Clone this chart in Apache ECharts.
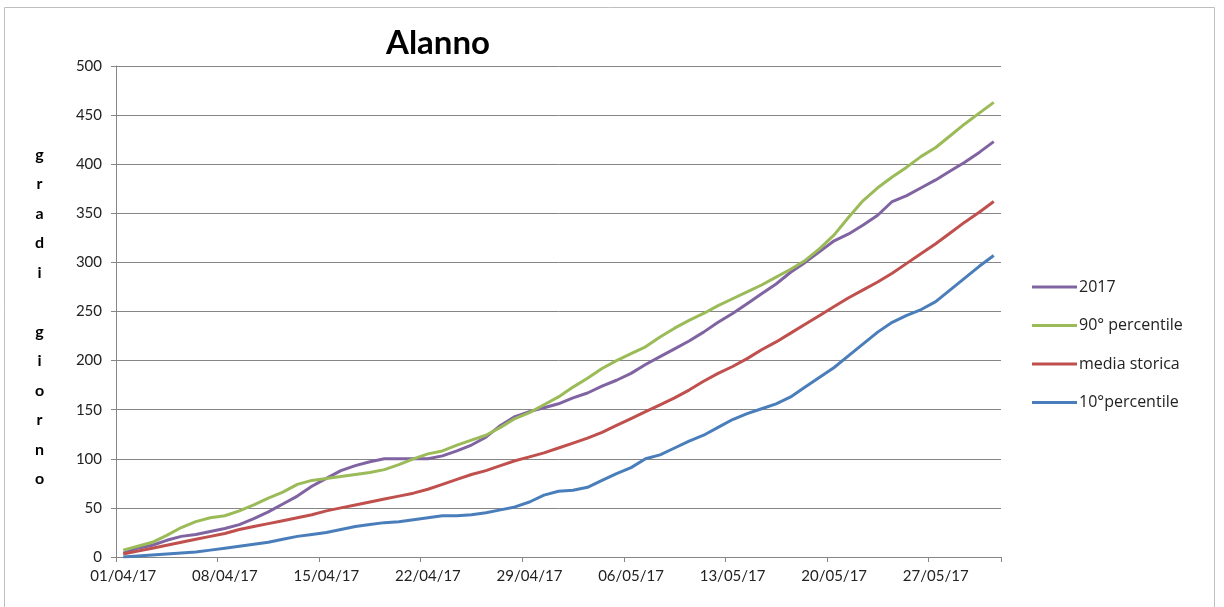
<!DOCTYPE html>
<html><head><meta charset="utf-8">
<script src="https://cdn.jsdelivr.net/npm/echarts@6/dist/echarts.min.js"></script>
<style>html,body{margin:0;padding:0;background:#fff;}#c{width:1224px;height:607px;}</style>
</head><body><div id="c"></div>
<script>
const dates = ["01/04/17","02/04/17","03/04/17","04/04/17","05/04/17","06/04/17","07/04/17","08/04/17","09/04/17","10/04/17",
"11/04/17","12/04/17","13/04/17","14/04/17","15/04/17","16/04/17","17/04/17","18/04/17","19/04/17","20/04/17",
"21/04/17","22/04/17","23/04/17","24/04/17","25/04/17","26/04/17","27/04/17","28/04/17","29/04/17","30/04/17",
"01/05/17","02/05/17","03/05/17","04/05/17","05/05/17","06/05/17","07/05/17","08/05/17","09/05/17","10/05/17",
"11/05/17","12/05/17","13/05/17","14/05/17","15/05/17","16/05/17","17/05/17","18/05/17","19/05/17","20/05/17",
"21/05/17","22/05/17","23/05/17","24/05/17","25/05/17","26/05/17","27/05/17","28/05/17","29/05/17","30/05/17","31/05/17"];
const s2017 = [4,9,12,17,21,23,26,29,33,39,46,54,62,72,80,88,93,97,100,100,100,100,103,108,114,122,134,143,148,152,156,162,167,174,180,187,196,204,212,220,229,239,248,258,268,278,290,300,311,322,329,338,348,362,368,376,384,393,402,412,423];
const p90 = [7,11,15,22,30,36,40,42,47,53,60,66,74,78,80,82,84,86,89,94,100,105,108,114,119,124,132,141,147,155,163,173,182,192,200,207,214,224,233,241,248,256,263,270,277,285,293,302,314,328,346,363,376,387,397,408,417,429,441,452,463];
const media = [3,6,9,12,15,18,21,24,28,31,34,37,40,43,47,50,53,56,59,62,65,69,74,79,84,88,93,98,102,106,111,116,121,127,134,141,148,155,162,170,179,187,194,202,211,219,228,237,246,255,264,272,280,289,299,309,319,330,341,351,362];
const p10 = [0,1,2,3,4,5,7,9,11,13,15,18,21,23,25,28,31,33,35,36,38,40,42,42,43,45,48,51,56,63,67,68,71,78,85,91,100,104,111,118,124,132,140,146,151,156,163,173,183,193,205,217,229,239,246,252,260,272,284,296,307];
const names = ["2017","90° percentile","media storica","10°percentile"];
const colors = ["#8064A2","#9BBB59","#C0504D","#4A7EBB"];
const yTitle = ["g","r","a","d","i","","g","i","o","r","n","o"];

const chart = echarts.init(document.getElementById('c'), null, {renderer:'canvas'});
const font = "Lato, 'Open Sans', sans-serif";
const mk = (n, d, i) => ({name:n, type:'line', data:d, symbol:'none', smooth:false,
  lineStyle:{color:colors[i], width:3}, itemStyle:{color:colors[i]}, z: 2+i});
chart.setOption({
  animation:false,
  backgroundColor:'#fff',
  title:{text:'Alanno', left:433, top:22, textAlign:'center',
    textStyle:{fontFamily:font, fontSize:33, fontWeight:'bold', color:'#000'}},
  grid:{left:116, right:223, top:66, bottom:50, containLabel:false},
  legend:{orient:'vertical', left:1027, top:273, itemWidth:45, itemHeight:3, itemGap:20.5, icon:'rect',
    data:names, textStyle:{fontFamily:"'Open Sans', sans-serif", fontSize:16, lineHeight:18, color:'#222', padding:[0,0,0,-3]}},
  xAxis:{type:'category', data:dates, boundaryGap:true,
    axisLine:{lineStyle:{color:'#868686', width:1}},
    axisTick:{show:true, interval:6, length:5, lineStyle:{color:'#868686'}},
    axisLabel:{interval:6, fontFamily:font, fontSize:15, color:'#222', margin:12}},
  yAxis:{type:'value', min:0, max:500, interval:50,
    axisLine:{show:true, lineStyle:{color:'#868686', width:1}},
    axisTick:{show:true, length:5, lineStyle:{color:'#868686'}},
    splitLine:{lineStyle:{color:'#868686', width:1}},
    axisLabel:{fontFamily:font, fontSize:15, color:'#222', margin:14}},
  graphic:[
    {type:'rect', shape:{x:4.5, y:7.5, width:1210, height:620}, style:{fill:'none', stroke:'#bfbfbf', lineWidth:1}, silent:true},
    {type:'text', left:35, top:140, style:{text:yTitle.join('\n'), font:"bold 16px "+font, fill:'#000', lineHeight:29.5, textAlign:'center'}}
  ],
  series:[mk(names[0], s2017, 0), mk(names[1], p90, 1), mk(names[2], media, 2), mk(names[3], p10, 3)]
});
</script></body></html>
